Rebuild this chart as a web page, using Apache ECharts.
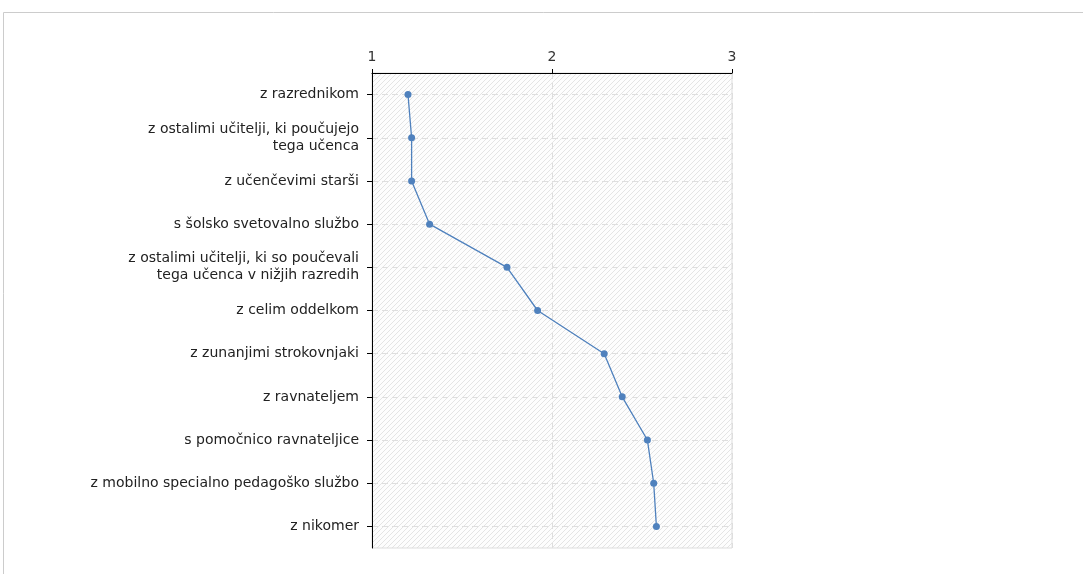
<!DOCTYPE html>
<html>
<head>
<meta charset="utf-8">
<script src="https://cdn.jsdelivr.net/npm/echarts@6/dist/echarts.min.js"></script>
<style>html,body{margin:0;padding:0;background:#fff;}#c{width:1083px;height:574px;}</style>
</head>
<body>
<div id="c"></div>
<script>
const categories = [
  'z razrednikom',
  'z ostalimi učitelji, ki poučujejo\ntega učenca',
  'z učenčevimi starši',
  's šolsko svetovalno službo',
  'z ostalimi učitelji, ki so poučevali\ntega učenca v nižjih razredih',
  'z celim oddelkom',
  'z zunanjimi strokovnjaki',
  'z ravnateljem',
  's pomočnico ravnateljice',
  'z mobilno specialno pedagoško službo',
  'z nikomer'
];
const values = [1.20, 1.22, 1.22, 1.32, 1.75, 1.92, 2.29, 2.39, 2.53, 2.565, 2.58];
const axisMin = 1, axisMax = 3, axisStep = 1;

const pc = document.createElement('canvas');
pc.width = 5; pc.height = 5;
const g = pc.getContext('2d');
g.fillStyle = '#fdfdfd'; g.fillRect(0, 0, 5, 5);
g.strokeStyle = '#e4e4e4'; g.lineWidth = 1;
g.beginPath(); g.moveTo(-1, 6); g.lineTo(6, -1); g.stroke();
g.beginPath(); g.moveTo(-6, 6); g.lineTo(1, -1); g.stroke();
g.beginPath(); g.moveTo(4, 6); g.lineTo(11, -1); g.stroke();

const chart = echarts.init(document.getElementById('c'), null, {renderer: 'canvas'});
const font = 'DejaVu Sans';
chart.setOption({
  animation: false,
  backgroundColor: '#fff',
  graphic: [{
    type: 'rect', shape: {x: 3.5, y: 12.5, width: 1200, height: 700},
    style: {fill: 'none', stroke: '#cccccc', lineWidth: 1}, z: -1
  }],
  grid: {
    left: 372, top: 73, width: 360, height: 475,
    show: true, backgroundColor: {image: pc, repeat: 'repeat'},
    borderColor: '#dddddd', borderWidth: 1
  },
  xAxis: {
    type: 'value', position: 'top', min: axisMin, max: axisMax, interval: axisStep,
    axisLine: {show: true, lineStyle: {color: '#000', width: 1}},
    axisTick: {show: true, length: 4, lineStyle: {color: '#000'}},
    axisLabel: {color: '#333', fontFamily: font, fontSize: 14, margin: 9},
    splitLine: {show: true, lineStyle: {color: '#dedede', type: [6, 4]}}
  },
  yAxis: {
    type: 'category', inverse: true, data: categories, boundaryGap: true,
    axisLine: {show: true, lineStyle: {color: '#000', width: 1}},
    axisTick: {show: true, alignWithLabel: true, length: 5, lineStyle: {color: '#000'}},
    axisLabel: {color: '#222', fontFamily: font, fontSize: 14, margin: 13, align: 'right', lineHeight: 17},
    splitLine: {show: true, alignWithLabel: true, lineStyle: {color: '#dedede', type: [6, 4]}}
  },
  series: [{
    type: 'line', data: values,
    symbol: 'circle', symbolSize: 7,
    lineStyle: {color: '#4f81bd', width: 1.3},
    itemStyle: {color: '#4f81bd'}
  }]
});
</script>
</body>
</html>
